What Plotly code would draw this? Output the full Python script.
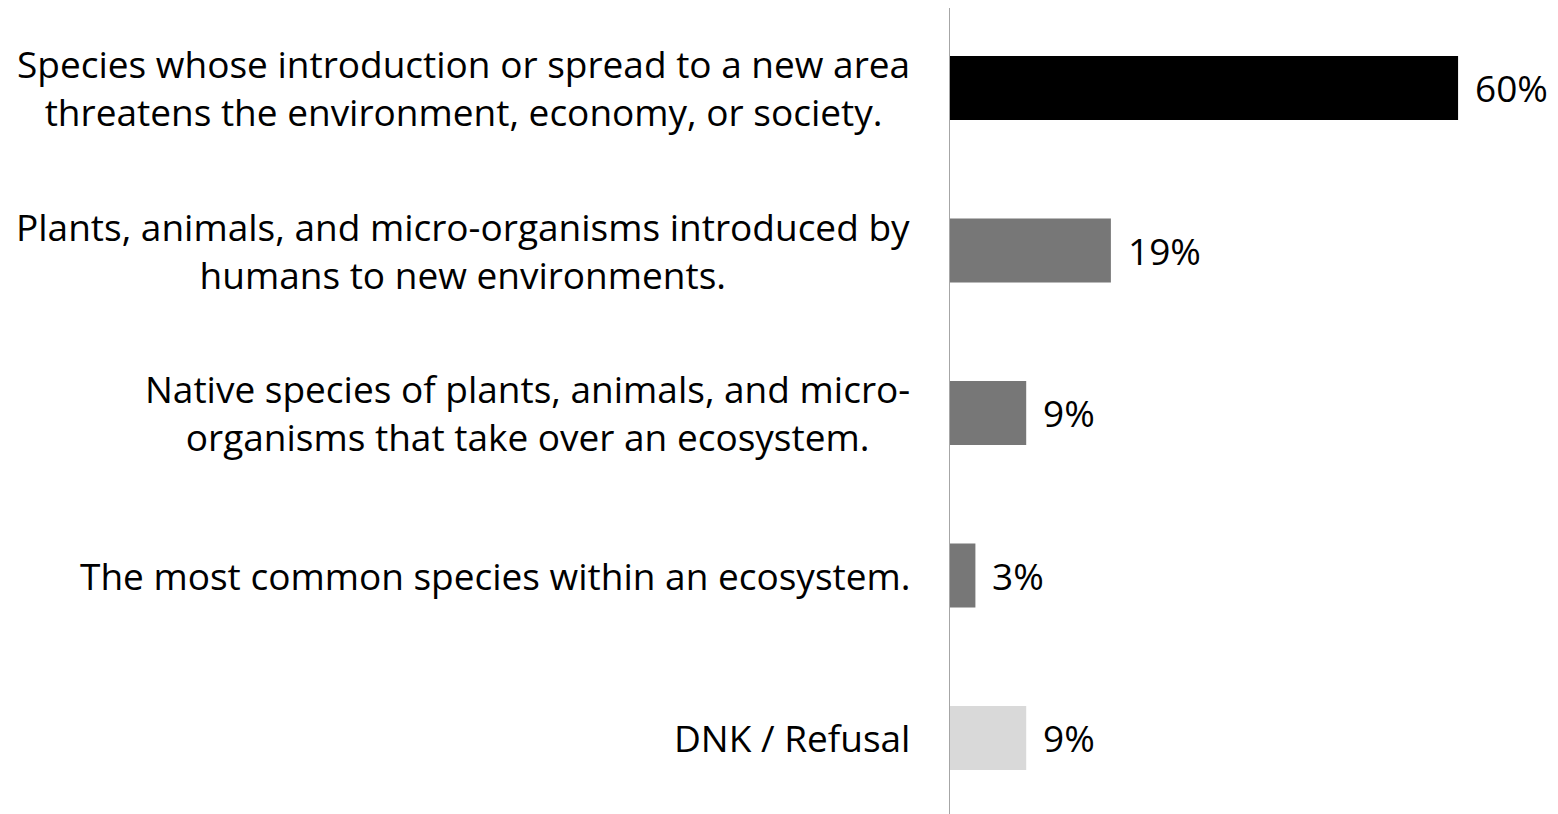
"""Invasive species definition: horizontal bar chart."""

import plotly.graph_objects as go

FONT_FAMILY = "Open Sans, sans-serif"
FONT_SIZE = 37
TEXT_COLOR = "#000000"
AXIS_COLOR = "#a6a6a6"

categories = [
    "Species whose introduction or spread to a new area<br>threatens the environment, economy, or society.",
    "Plants, animals, and micro-organisms introduced by<br>humans to new environments.",
    "Native species of plants, animals, and micro-<br>organisms that take over an ecosystem.",
    "The most common species within an ecosystem.",
    "DNK / Refusal",
]
values = [60, 19, 9, 3, 9]
value_labels = ["60%", "19%", "9%", "3%", "9%"]
bar_colors = ["#000000", "#777777", "#777777", "#777777", "#d9d9d9"]

fig = go.Figure()

fig.add_trace(
    go.Bar(
        x=values,
        y=categories,
        orientation="h",
        marker=dict(color=bar_colors, line=dict(width=0)),
        hoverinfo="skip",
    )
)

# Category labels: centred multi-line blocks, right-aligned against the axis
for cat in categories:
    fig.add_annotation(
        x=0,
        xref="paper",
        y=cat,
        yref="y",
        text=cat,
        showarrow=False,
        xanchor="right",
        xshift=-38,
        align="center",
        font=dict(family=FONT_FAMILY, size=FONT_SIZE, color=TEXT_COLOR),
    )

# Value labels just past the bar ends
for cat, val, lab in zip(categories, values, value_labels):
    fig.add_annotation(
        x=val,
        y=cat,
        text=lab,
        showarrow=False,
        xanchor="left",
        xshift=15,
        font=dict(family=FONT_FAMILY, size=FONT_SIZE, color=TEXT_COLOR),
    )

fig.update_layout(
    width=1550,
    height=806,
    margin=dict(l=942, r=0, t=0, b=0),
    plot_bgcolor="white",
    paper_bgcolor="white",
    showlegend=False,
    bargap=0.606,
    font=dict(family=FONT_FAMILY, size=FONT_SIZE, color=TEXT_COLOR),
)

fig.update_xaxes(
    range=[0, 71.8],
    showgrid=False,
    zeroline=False,
    showticklabels=False,
    showline=False,
)
fig.update_yaxes(
    range=[4.468, -0.492],
    showgrid=False,
    zeroline=False,
    showticklabels=False,
    showline=True,
    linecolor=AXIS_COLOR,
    linewidth=1,
    ticks="",
)

fig.write_html("out.html")
